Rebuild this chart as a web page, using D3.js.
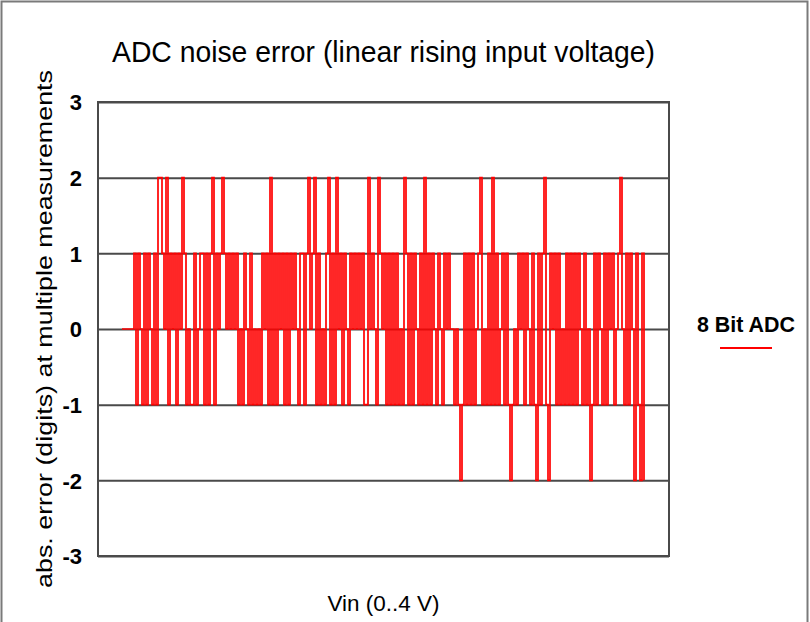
<!DOCTYPE html>
<html>
<head>
<meta charset="utf-8">
<script src="https://cdn.jsdelivr.net/npm/d3@7"></script>
<style>
  html, body { margin: 0; padding: 0; background: #fff; }
  svg { display: block; font-family: "Liberation Sans", Arial, sans-serif; }
</style>
</head>
<body>
<svg id="chart" width="810" height="622"></svg>
<script>
const errStart = [0, 0, 0, 0, 0, 0, 1, -1, 1, 0, -1, 1, -1, 1, 0, -1,
    1, -1, 2, 2, 1, 0, 2, -1, 1, 0, 1, -1, 1, 0, 2, 1, -1,
    0, -1, -1, 1, -1, 0, 1, 1, -1];
const errPart2 = [1, -1, 1, 2, -1, 1, 0, 1, 2, 1, 0, 1, 0, 1, 0,
    1, -1, 0, -1, 1, 0, -1, 1, -1, 0, -1, 0, -1,
    1, 0, 1, -1, 2, -1, 1, -1, 1, 0, 1, -1, 1, -1, 1, 0, 1, 0, -1, 1];
const errPart3 = [1, -1, 1, 2, 0, 1, 2, -1, 1, -1, 0, -1, 1, 2, -1, 1, -1, 2, 0, 1, -1, 1,
    0, -1, 1, 0, 1, 0, 1, 0, 1, -1, -1, 2, 0, 1, 0, -1, 2, 1, 0, 1, -1, 1];
const errPart4 = [-1, 1, -1, 1, -1, 0, -1, 2, 1, -1, 1, -1, 1, 0, -1, 1, -1, 2, -1, 1, -1, 1, 0,
    -1, 1, 0, -1, 1, 0, 1, 0, 0, -1, 0, -1, -2, -1, 1, -1, 1, -1, 1, -1, 0, 1, 2];
const errPart5 = [-1, 0, -1, 1, -1, 2, -1, 1, -1, 0, 1, -1, 1, -1, -2, -1, 0, -1, 1, 0, 1, -1, 1,
    0, -1, 1, -1, -2, 1, -1, 1, 2, -1, -2, 1, 0, 1, -1, 1, -1, 0, -1, 1, -1, 1];
const errEnd = [-1, 1, -1, 1, 0, -1, 1, -1, 0, -2, -1, 1, -1, 1, 0, -1, 1, -1, 1,
    0, 1, -1, 0, 1, 2, 0, -1, 1, -1, 1, 0, -2, 1, -1, -2, 1, -2];

const noiseError = [].concat(errStart, errPart2, errPart3, errPart4, errPart5, errEnd);

const yTicks = [3, 2, 1, 0, -1, -2, -3];
const seriesName = "8 Bit ADC";
const titleText = "ADC noise error (linear rising input voltage)";
const xLabel = "Vin (0..4 V)";
const yLabel = "abs. error (digits) at multiple measurements";

// --- Mise en page ---
const svg = d3.select("#chart");
const plot = {left: 98, right: 669, top: 102, bottom: 556};
const gridColor = "#4a4a4a";

// Cadre extérieur
svg.append("rect")
    .attr("x", 1.5).attr("y", 1.5)
    .attr("width", 806).attr("height", 640)
    .attr("fill", "none")
    .attr("stroke", "#7a7a7a")
    .attr("stroke-width", 2);

const x = d3.scaleLinear()
    .domain([-12, noiseError.length - 1 + 12.5])
    .range([plot.left, plot.right]);

const y = d3.scaleLinear()
    .domain([-3, 3])
    .range([plot.bottom, plot.top]);

// Lignes de grille + libellés de l'axe Y
const yAxis = d3.axisLeft(y)
    .tickValues(yTicks)
    .tickFormat(d => String(d))
    .tickSize(-(plot.right - plot.left))
    .tickPadding(16);

const yg = svg.append("g")
    .attr("transform", `translate(${plot.left},0)`)
    .call(yAxis);
yg.select(".domain").remove();
yg.selectAll(".tick line")
    .attr("stroke", gridColor)
    .attr("stroke-width", 2);
yg.selectAll(".tick text")
    .attr("fill", "#000")
    .style("font-size", "22px")
    .style("font-weight", "bold")
    .attr("dy", "0.36em");

// Bordure de la zone de tracé
svg.append("rect")
    .attr("x", plot.left).attr("y", plot.top)
    .attr("width", plot.right - plot.left)
    .attr("height", plot.bottom - plot.top)
    .attr("fill", "none")
    .attr("stroke", gridColor)
    .attr("stroke-width", 2);

// Courbe (marches verticales comme l'original)
const line = d3.line()
    .x((d, i) => x(i))
    .y(d => y(d))
    .curve(d3.curveStepAfter);

svg.append("path")
    .datum(noiseError)
    .attr("fill", "none")
    .attr("stroke", "#ff0000")
    .attr("stroke-width", 1.7)
    .attr("d", line);

// Titre
svg.append("text")
    .attr("x", (plot.left + plot.right) / 2)
    .attr("y", 62)
    .attr("text-anchor", "middle")
    .attr("textLength", 543)
    .attr("lengthAdjust", "spacingAndGlyphs")
    .style("font-size", "29px")
    .text(titleText);

// Libellé axe X
svg.append("text")
    .attr("x", (plot.left + plot.right) / 2)
    .attr("y", 611)
    .attr("text-anchor", "middle")
    .attr("textLength", 112)
    .attr("lengthAdjust", "spacingAndGlyphs")
    .style("font-size", "22px")
    .text(xLabel);

// Libellé axe Y
svg.append("text")
    .attr("transform", `translate(52,${(plot.top + plot.bottom) / 2}) rotate(-90)`)
    .attr("text-anchor", "middle")
    .attr("textLength", 518)
    .attr("lengthAdjust", "spacingAndGlyphs")
    .style("font-size", "22px")
    .text(yLabel);

// Légende
const legend = svg.append("g").attr("transform", "translate(746,0)");
legend.append("text")
    .attr("x", 0).attr("y", 332)
    .attr("text-anchor", "middle")
    .attr("textLength", 98)
    .attr("lengthAdjust", "spacingAndGlyphs")
    .style("font-size", "22px")
    .style("font-weight", "bold")
    .text(seriesName);
legend.append("line")
    .attr("x1", -26).attr("x2", 26)
    .attr("y1", 348).attr("y2", 348)
    .attr("stroke", "#ff0000")
    .attr("stroke-width", 2);
</script>
</body>
</html>
